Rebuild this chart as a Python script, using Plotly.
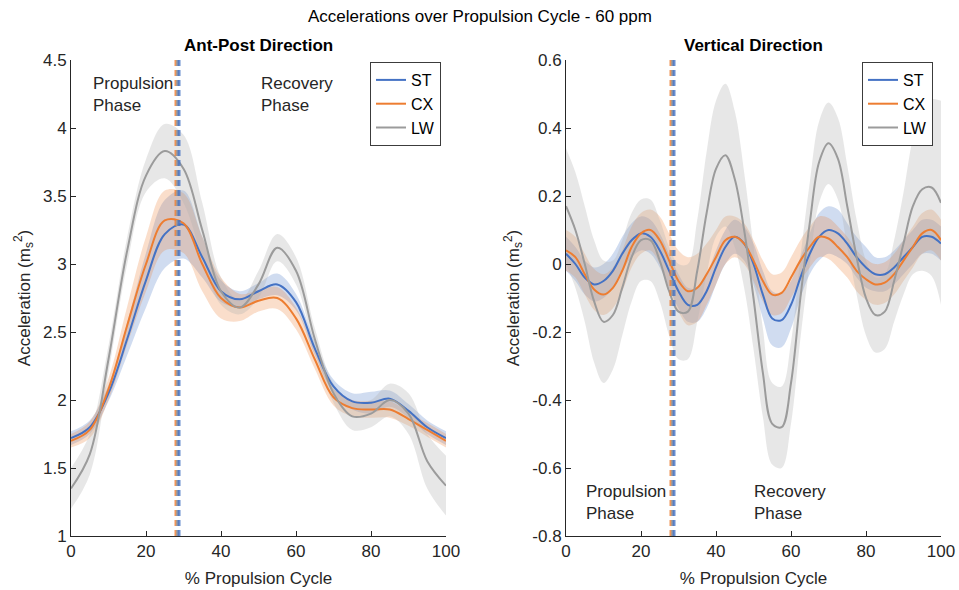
import plotly.graph_objects as go

# ---------------- data ----------------
x_ap = [0, 5, 10, 15, 20, 25, 30, 35, 40, 45, 50, 55, 60, 65, 70, 75, 80, 85, 90, 95, 100]
ap_st = [1.72, 1.80, 2.05, 2.45, 2.88, 3.22, 3.29, 3.05, 2.80, 2.74, 2.80, 2.85, 2.72, 2.38, 2.10, 1.99, 1.98, 2.01, 1.92, 1.80, 1.72]
ap_cx = [1.70, 1.78, 2.08, 2.55, 3.00, 3.32, 3.30, 3.00, 2.75, 2.68, 2.73, 2.75, 2.60, 2.30, 2.02, 1.94, 1.93, 1.93, 1.86, 1.78, 1.70]
ap_lw = [1.35, 1.60, 2.30, 3.10, 3.65, 3.83, 3.70, 3.25, 2.80, 2.68, 2.85, 3.12, 2.95, 2.45, 2.05, 1.88, 1.90, 2.00, 1.90, 1.55, 1.37]
ap_st_sd = [0.05, 0.05, 0.06, 0.12, 0.20, 0.25, 0.25, 0.15, 0.08, 0.06, 0.06, 0.08, 0.06, 0.05, 0.05, 0.06, 0.08, 0.06, 0.05, 0.05, 0.05]
ap_cx_sd = [0.05, 0.06, 0.08, 0.14, 0.20, 0.22, 0.22, 0.20, 0.15, 0.10, 0.08, 0.08, 0.08, 0.07, 0.06, 0.06, 0.06, 0.06, 0.05, 0.05, 0.05]
ap_lw_sd = [0.15, 0.15, 0.10, 0.10, 0.12, 0.20, 0.25, 0.20, 0.10, 0.05, 0.10, 0.10, 0.10, 0.08, 0.07, 0.10, 0.10, 0.12, 0.15, 0.20, 0.22]

x_vt = [0, 2.5, 5, 7.5, 10, 12.5, 15, 17.5, 20, 22.5, 25, 27.5, 30, 32.5, 35, 37.5, 40, 42.5, 45, 47.5,
        50, 52.5, 55, 57.5, 60, 62.5, 65, 67.5, 70, 72.5, 75, 77.5, 80, 82.5, 85, 87.5, 90, 92.5, 95, 97.5, 100]
vt_st = [0.03, 0.00, -0.04, -0.06, -0.05, -0.02, 0.03, 0.07, 0.09, 0.08, 0.04, -0.02, -0.08, -0.12, -0.12, -0.08, -0.01, 0.05, 0.08, 0.06,
         0.00, -0.09, -0.16, -0.165, -0.12, -0.04, 0.03, 0.08, 0.10, 0.09, 0.06, 0.02, -0.01, -0.03, -0.03, -0.01, 0.02, 0.05, 0.08, 0.08, 0.06]
vt_cx = [0.04, 0.02, -0.03, -0.075, -0.09, -0.07, -0.02, 0.05, 0.09, 0.10, 0.07, 0.01, -0.05, -0.08, -0.07, -0.03, 0.02, 0.07, 0.08, 0.06,
         0.01, -0.05, -0.09, -0.085, -0.04, 0.01, 0.05, 0.08, 0.075, 0.05, 0.02, -0.02, -0.045, -0.06, -0.055, -0.03, 0.01, 0.05, 0.09, 0.10, 0.07]
vt_lw = [0.17, 0.10, 0.00, -0.11, -0.17, -0.15, -0.07, 0.02, 0.07, 0.07, 0.01, -0.08, -0.14, -0.14, -0.02, 0.15, 0.28, 0.32, 0.25, 0.10,
         -0.10, -0.32, -0.47, -0.48, -0.35, -0.10, 0.12, 0.30, 0.355, 0.31, 0.17, 0.02, -0.10, -0.15, -0.14, -0.05, 0.06, 0.17, 0.22, 0.225, 0.18]
vt_st_sd = [0.05, 0.05, 0.05, 0.05, 0.05, 0.05, 0.05, 0.05, 0.05, 0.05, 0.05, 0.05, 0.05, 0.05, 0.05, 0.05, 0.05, 0.05, 0.05, 0.05,
            0.06, 0.07, 0.08, 0.08, 0.07, 0.06, 0.06, 0.07, 0.07, 0.07, 0.06, 0.06, 0.06, 0.05, 0.05, 0.05, 0.05, 0.05, 0.05, 0.05, 0.05]
vt_cx_sd = [0.06, 0.06, 0.06, 0.06, 0.06, 0.06, 0.06, 0.06, 0.06, 0.06, 0.07, 0.08, 0.09, 0.10, 0.10, 0.09, 0.08, 0.07, 0.06, 0.06,
            0.06, 0.06, 0.06, 0.06, 0.06, 0.06, 0.06, 0.06, 0.06, 0.06, 0.06, 0.06, 0.06, 0.06, 0.06, 0.06, 0.06, 0.06, 0.06, 0.06, 0.06]
vt_lw_sd = [0.17, 0.17, 0.17, 0.18, 0.18, 0.16, 0.14, 0.13, 0.12, 0.12, 0.12, 0.13, 0.14, 0.14, 0.15, 0.18, 0.20, 0.21, 0.20, 0.17,
            0.15, 0.13, 0.12, 0.12, 0.12, 0.12, 0.12, 0.12, 0.12, 0.12, 0.12, 0.11, 0.11, 0.11, 0.11, 0.12, 0.15, 0.20, 0.24, 0.26, 0.30]

phase_boundary = {"CX": 28.0, "LW": 28.4, "ST": 28.8}

series = ["ST", "CX", "LW"]
line_colors = {"ST": "rgb(68,114,196)", "CX": "rgb(237,125,49)", "LW": "rgb(155,155,155)"}
band_colors = {"ST": "rgba(68,114,196,0.25)", "CX": "rgba(237,125,49,0.25)", "LW": "rgba(175,175,175,0.3)"}

ap_data = {"ST": (ap_st, ap_st_sd), "CX": (ap_cx, ap_cx_sd), "LW": (ap_lw, ap_lw_sd)}
vt_data = {"ST": (vt_st, vt_st_sd), "CX": (vt_cx, vt_cx_sd), "LW": (vt_lw, vt_lw_sd)}

FONT = "Liberation Sans, Arial, sans-serif"
TXT = "rgb(38,38,38)"
FS = 17

fig = go.Figure()


def add_panel(xs, data, xa, ya, legend):
    for s in series:
        m, sd = data[s]
        up = [a + b for a, b in zip(m, sd)]
        lo = [a - b for a, b in zip(m, sd)]
        fig.add_trace(go.Scatter(x=xs, y=up, mode="lines", line=dict(width=0, shape="spline"),
                                 showlegend=False, hoverinfo="skip", xaxis=xa, yaxis=ya))
        fig.add_trace(go.Scatter(x=xs, y=lo, mode="lines", line=dict(width=0, shape="spline"),
                                 fill="tonexty", fillcolor=band_colors[s],
                                 showlegend=False, hoverinfo="skip", xaxis=xa, yaxis=ya))
    for s in series:
        m, sd = data[s]
        fig.add_trace(go.Scatter(x=xs, y=m, mode="lines", name=s,
                                 line=dict(color=line_colors[s], width=2, shape="spline"),
                                 xaxis=xa, yaxis=ya, legend=legend))


add_panel(x_ap, ap_data, "x", "y", "legend")
add_panel(x_vt, vt_data, "x2", "y2", "legend2")

for xr, yr in (("x", "y"), ("x2", "y2")):
    for s in ["CX", "LW", "ST"]:
        fig.add_shape(type="line", xref=xr, yref=yr + " domain", x0=phase_boundary[s], x1=phase_boundary[s],
                      y0=0, y1=1, line=dict(color=line_colors[s], width=3, dash="6px,4px"), opacity=0.8)

axis_common = dict(showline=True, linecolor="rgb(38,38,38)", linewidth=1, ticks="inside", ticklen=5,
                   tickcolor="rgb(38,38,38)", showgrid=False, zeroline=False, mirror=False, automargin=False,
                   tickfont=dict(family=FONT, size=FS, color=TXT))

leg_common = dict(xanchor="left", yanchor="top", bgcolor="white", traceorder="normal",
                  bordercolor="rgb(60,60,60)", borderwidth=1, font=dict(family=FONT, size=16, color="black"),
                  tracegroupgap=0, itemwidth=30)

fig.update_layout(
    width=959, height=590,
    margin=dict(l=0, r=0, t=0, b=0),
    paper_bgcolor="white", plot_bgcolor="white",
    font=dict(family=FONT, color=TXT),
    xaxis=dict(domain=[71 / 959, 446 / 959], range=[0, 100], tickvals=[0, 20, 40, 60, 80, 100],
               anchor="y", title=dict(text="% Propulsion Cycle", font=dict(size=FS), standoff=11), **axis_common),
    yaxis=dict(domain=[1 - 536 / 590, 1 - 60 / 590], range=[1, 4.5], tickvals=[1, 1.5, 2, 2.5, 3, 3.5, 4, 4.5],
               ticktext=["1", "1.5", "2", "2.5", "3", "3.5", "4", "4.5"], anchor="x",
               title=dict(text="Acceleration (m<sub>s</sub><sup>2</sup>)", font=dict(size=FS), standoff=8), **axis_common),
    xaxis2=dict(domain=[566 / 959, 941 / 959], range=[0, 100], tickvals=[0, 20, 40, 60, 80, 100],
                anchor="y2", title=dict(text="% Propulsion Cycle", font=dict(size=FS), standoff=11), **axis_common),
    yaxis2=dict(domain=[1 - 536 / 590, 1 - 60 / 590], range=[-0.8, 0.6],
                tickvals=[-0.8, -0.6, -0.4, -0.2, 0, 0.2, 0.4, 0.6],
                ticktext=["-0.8", "-0.6", "-0.4", "-0.2", "0", "0.2", "0.4", "0.6"], anchor="x2",
                title=dict(text="Acceleration (m<sub>s</sub><sup>2</sup>)", font=dict(size=FS), standoff=8), **axis_common),
    legend=dict(x=370 / 959, y=1 - 62 / 590, **leg_common),
    legend2=dict(x=862 / 959, y=1 - 62 / 590, **leg_common),
    showlegend=True,
)

ann_font = dict(family=FONT, size=FS, color=TXT)
fig.add_annotation(text="Accelerations over Propulsion Cycle - 60 ppm", xref="paper", yref="paper",
                   x=0.5, y=1 - 17 / 590, xanchor="center", yanchor="middle", showarrow=False,
                   font=dict(family=FONT, size=FS, color="black"))
fig.add_annotation(text="<b>Ant-Post Direction</b>", xref="paper", yref="paper", x=258 / 959, y=1 - 45 / 590,
                   xanchor="center", yanchor="middle", showarrow=False, font=dict(family=FONT, size=FS, color="black"))
fig.add_annotation(text="<b>Vertical Direction</b>", xref="paper", yref="paper", x=753 / 959, y=1 - 45 / 590,
                   xanchor="center", yanchor="middle", showarrow=False, font=dict(family=FONT, size=FS, color="black"))
fig.add_annotation(text="Propulsion<br>Phase", xref="x", yref="y", x=5.3, y=4.41, xanchor="left", yanchor="top",
                   align="left", showarrow=False, font=ann_font)
fig.add_annotation(text="Recovery<br>Phase", xref="x", yref="y", x=50.1, y=4.41, xanchor="left", yanchor="top",
                   align="left", showarrow=False, font=ann_font)
fig.add_annotation(text="Propulsion<br>Phase", xref="x2", yref="y2", x=4.8, y=-0.635, xanchor="left", yanchor="top",
                   align="left", showarrow=False, font=ann_font)
fig.add_annotation(text="Recovery<br>Phase", xref="x2", yref="y2", x=49.6, y=-0.635, xanchor="left", yanchor="top",
                   align="left", showarrow=False, font=ann_font)

fig.write_html("out.html")
